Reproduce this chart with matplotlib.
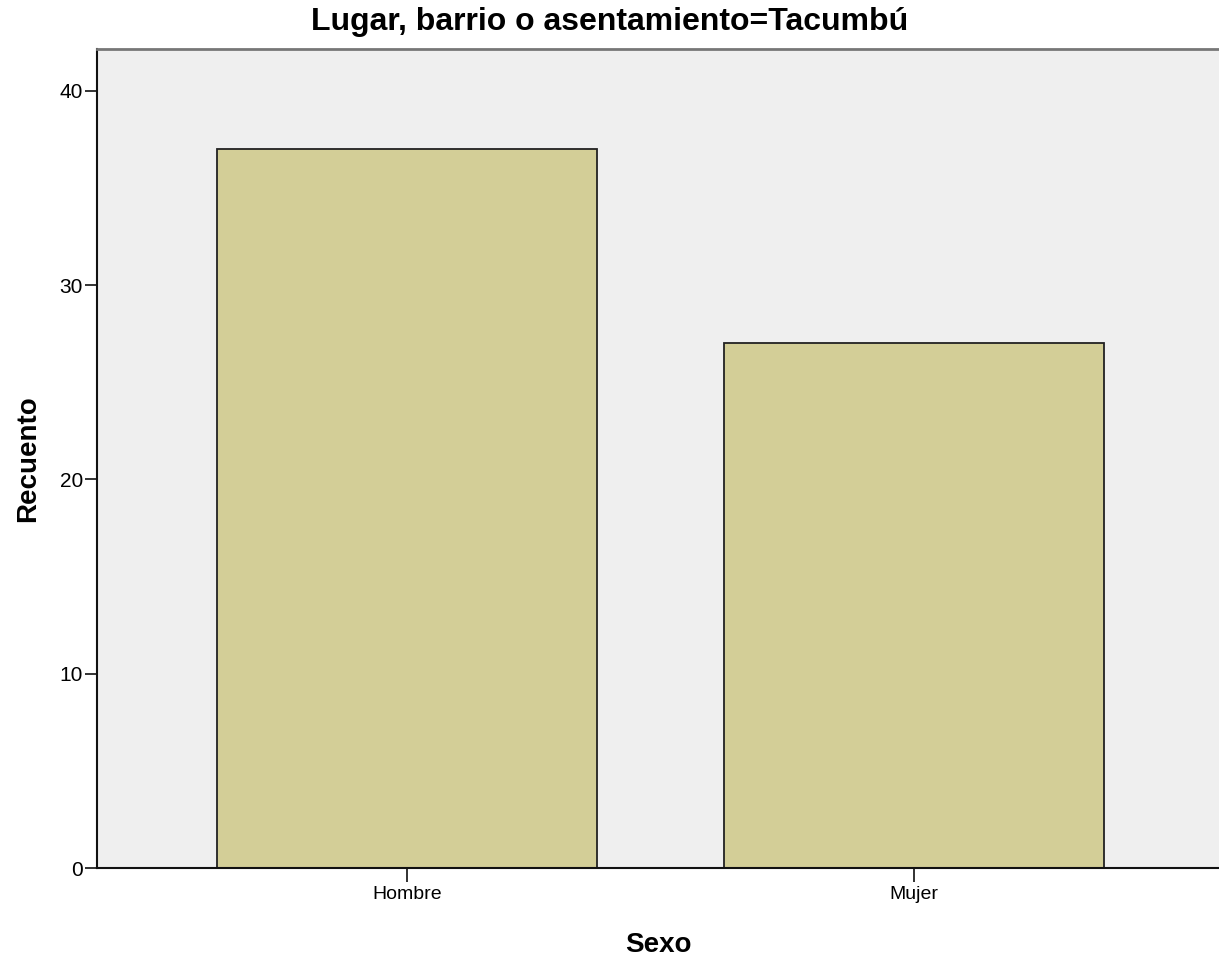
import matplotlib.pyplot as plt

# Data
categorias = ["Hombre", "Mujer"]
recuento = [37, 27]
y_ticks = [0, 10, 20, 30, 40]

plt.rcParams['font.family'] = ['Liberation Sans', 'DejaVu Sans']

fig = plt.figure(figsize=(12.19, 9.58), dpi=100)
ax = fig.add_axes([97 / 1219, 90 / 958, 1 - 97 / 1219, 819 / 958])
ax.set_facecolor("#efefef")

x = list(range(len(categorias)))
ax.bar(x, recuento, width=0.75, color="#d3ce97", edgecolor="#222222", linewidth=1.3, zorder=2)

ax.set_xlim(-0.611, 1.601)
ax.set_ylim(0, 42.16)
ax.set_xticks(x)
ax.set_xticklabels(categorias, fontsize=14)
ax.set_yticks(y_ticks)
ax.set_yticklabels([str(v) for v in y_ticks], fontsize=15)

ax.tick_params(axis="x", length=10, width=1.3, color="#222222", pad=3)
ax.tick_params(axis="y", length=9, width=1.3, color="#222222", pad=1)

ax.spines["right"].set_visible(False)
ax.spines["top"].set_color("#777777")
ax.spines["top"].set_linewidth(2)
ax.spines["left"].set_linewidth(1.5)
ax.spines["bottom"].set_linewidth(1.5)
ax.spines["left"].set_color("#111111")
ax.spines["bottom"].set_color("#111111")

ax.set_xlabel("Sexo", fontsize=20, fontweight="bold")
ax.set_ylabel("Recuento", fontsize=20, fontweight="bold")
ax.xaxis.set_label_coords(0.5, -0.078)
ax.yaxis.set_label_coords(-0.05, 0.5)
fig.text(0.5, 1 - 7 / 958, "Lugar, barrio o asentamiento=Tacumbú", ha="center", va="top",
         fontsize=23, fontweight="bold")

plt.savefig("out.png", dpi=100)
plt.close()
